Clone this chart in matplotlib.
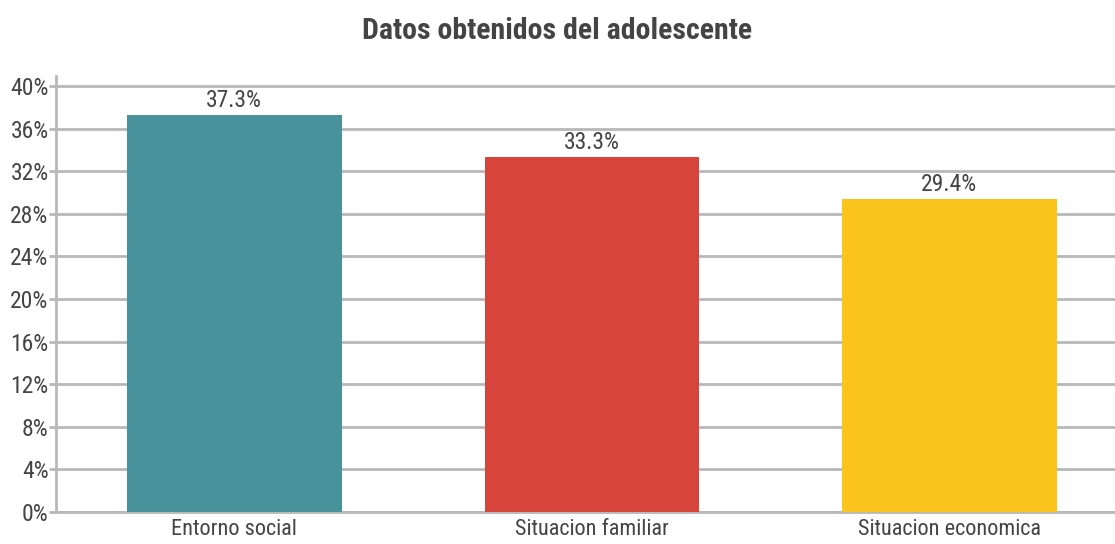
import matplotlib
matplotlib.use("Agg")
import matplotlib.pyplot as plt
from matplotlib.ticker import FuncFormatter, MultipleLocator

# data
categories = ["Entorno social", "Situacion familiar", "Situacion economica"]
values = [37.3, 33.3, 29.4]
colors = ["#48939b", "#d6443c", "#fbc41c"]
title = "Datos obtenidos del adolescente"

plt.rcParams["font.family"] = ["Roboto Condensed", "Archivo Narrow", "DejaVu Sans"]
text_color = "#444444"
grid_color = "#b8b8b8"

W, H = 1115, 544
fig = plt.figure(figsize=(W / 100, H / 100), dpi=100)
# axes extends past the right edge, like the original
left, right = 55.5, 1128
bottom, top = 512, 76
ax = fig.add_axes([left / W, 1 - bottom / H, (right - left) / W, (bottom - top) / H])

x = range(len(categories))
bars = ax.bar(x, values, width=0.6, color=colors, zorder=3)

ax.set_xlim(-0.5, len(categories) - 0.5)
ax.set_ylim(0, 40.94)
ax.yaxis.set_major_locator(MultipleLocator(4))
ax.yaxis.set_major_formatter(FuncFormatter(lambda v, p: f"{v:.0f}%"))
ax.grid(axis="y", color=grid_color, linewidth=2, zorder=0)

ax.set_xticks(list(x))
ax.set_xticklabels(categories)
ax.tick_params(axis="x", length=0, pad=5, labelsize=16, labelcolor=text_color)
ax.tick_params(axis="y", length=5, width=2, color=grid_color, pad=0,
               labelsize=17, labelcolor=text_color)

for s in ["top", "right"]:
    ax.spines[s].set_visible(False)
for s in ["left", "bottom"]:
    ax.spines[s].set_color(grid_color)
    ax.spines[s].set_linewidth(2)

for b, v in zip(bars, values):
    ax.text(b.get_x() + b.get_width() / 2, v + 0.3, f"{v:.1f}%",
            ha="center", va="bottom", fontsize=17, color=text_color)

fig.text(0.5, 1 - 31 / H, title, ha="center", va="center",
         fontsize=21.5, fontweight="bold", color=text_color)

fig.savefig("out.png", dpi=100)
